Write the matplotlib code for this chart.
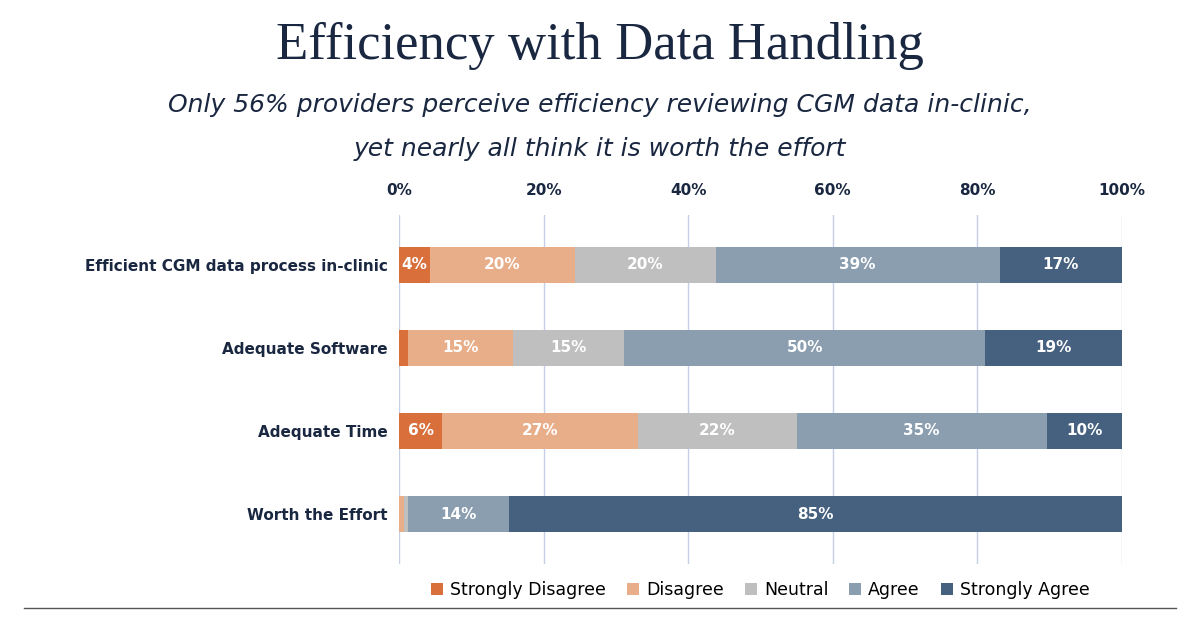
import matplotlib.pyplot as plt
import numpy as np

rows = ["Efficient CGM data process in-clinic", "Adequate Software", "Adequate Time", "Worth the Effort"]
cats = ["Strongly Disagree", "Disagree", "Neutral", "Agree", "Strongly Agree"]
colors = ["#d9703c", "#e8ae8a", "#bfbfbf", "#8a9eb0", "#46617f"]
vals = np.array([
    [4.3, 20.0, 19.5, 39.3, 16.9],
    [1.2, 14.5, 15.4, 50.0, 18.9],
    [6.0, 27.0, 22.0, 34.6, 10.4],
    [0.0, 0.7, 0.5, 14.0, 84.8],
])
labels = [
    ["4%", "20%", "20%", "39%", "17%"],
    ["", "15%", "15%", "50%", "19%"],
    ["6%", "27%", "22%", "35%", "10%"],
    ["", "", "", "14%", "85%"],
]

fig = plt.figure(figsize=(12, 6.19), dpi=100)
ax = fig.add_axes([0.3325, 0.089, 0.6025, 0.564])

y = np.arange(len(rows))
left = np.zeros(len(rows))
for j, c in enumerate(cats):
    ax.barh(y, vals[:, j], left=left, height=0.43, color=colors[j], label=c, zorder=3)
    for i in range(len(rows)):
        if labels[i][j]:
            ax.text(left[i] + vals[i, j] / 2, y[i], labels[i][j], ha="center", va="center",
                    color="white", fontsize=11, fontweight="bold", zorder=4)
    left += vals[:, j]

ax.set_xlim(0, 100)
ax.set_ylim(3.6, -0.6)
ax.set_yticks(y)
ax.set_yticklabels(rows, fontsize=11, fontweight="bold", color="#1a2740")
ax.set_xticks(range(0, 101, 20))
ax.set_xticklabels([f"{v}%" for v in range(0, 101, 20)], fontsize=11, fontweight="bold", color="#1a2740")
ax.xaxis.tick_top()
ax.tick_params(length=0, pad=8)
ax.tick_params(axis="x", pad=12)
ax.grid(axis="x", color="#c5d0e8", linewidth=1, zorder=0)
for s in ax.spines.values():
    s.set_visible(False)

ax.legend(loc="upper center", bbox_to_anchor=(0.5, -0.005), ncol=5, frameon=False,
          fontsize=12.5, handlelength=0.7, handleheight=0.7, columnspacing=1.2, handletextpad=0.4)

fig.text(0.5, 0.925, "Efficiency with Data Handling", ha="center", va="center",
         fontsize=38, family="Liberation Serif", color="#1a2740")
fig.text(0.5, 0.83, "Only 56% providers perceive efficiency reviewing CGM data in-clinic,",
         ha="center", va="center", fontsize=18, style="italic", color="#1a2740")
fig.text(0.5, 0.76, "yet nearly all think it is worth the effort",
         ha="center", va="center", fontsize=18, style="italic", color="#1a2740")
fig.add_artist(plt.Line2D([0.02, 0.98], [0.018, 0.018], color="#555555", linewidth=1))

fig.savefig("out.png")
